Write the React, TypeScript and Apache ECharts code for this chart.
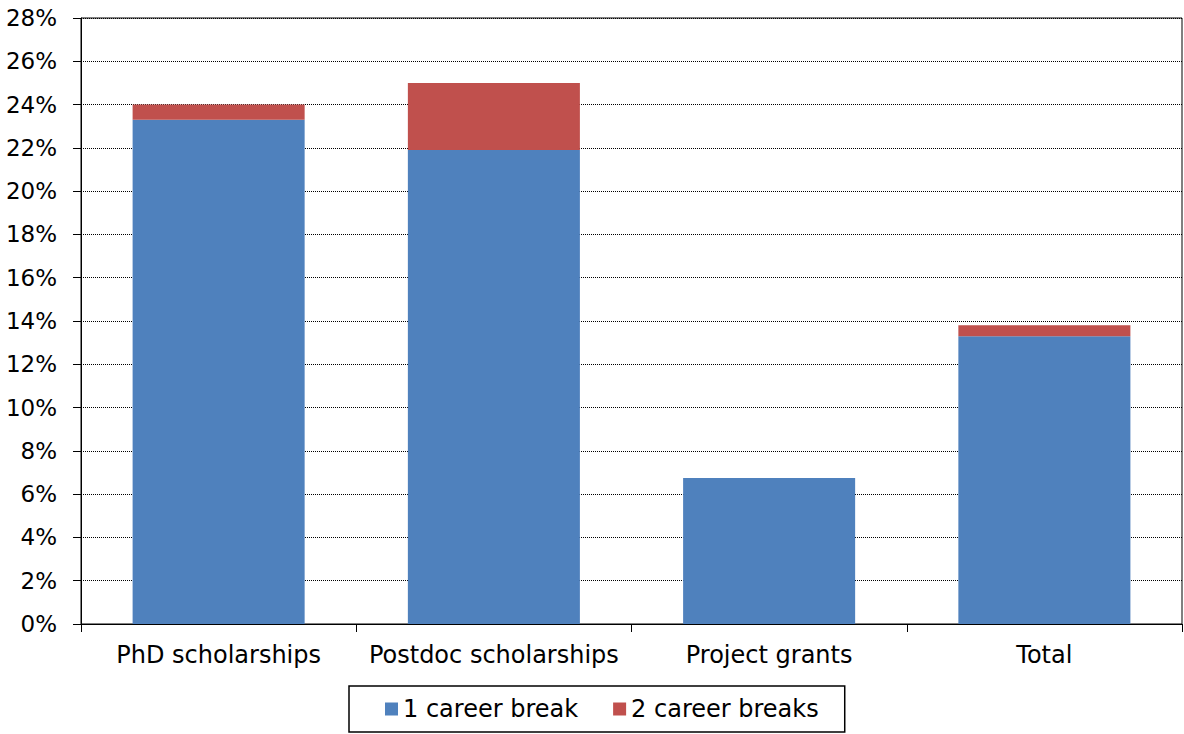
import React, { useEffect, useRef } from "react";
import * as echarts from "echarts";

const categories = ["PhD scholarships", "Postdoc scholarships", "Project grants", "Total"];
const oneBreak = [23.3, 21.9, 6.75, 13.3];
const twoBreaks = [0.7, 3.1, 0, 0.5];
const seriesNames = ["1 career break", "2 career breaks"];
const yTicks = { min: 0, max: 28, interval: 2 };

export default function App() {
  const ref = useRef<HTMLDivElement>(null);
  useEffect(() => {
    if (!ref.current) return;
    const chart = echarts.init(ref.current, null, { renderer: "svg" });
    const font = "DejaVu Sans, Arial, sans-serif";
    chart.setOption({
      animation: false,
      backgroundColor: "#fff",
      textStyle: { fontFamily: font },
      grid: {
        left: 81,
        right: 2,
        top: 18,
        bottom: 110,
        show: true,
        borderColor: "#000",
        borderWidth: 1,
        containLabel: false,
      },
      legend: {
        data: seriesNames,
        left: 349,
        top: 686,
        orient: "horizontal",
        icon: "rect",
        itemWidth: 13,
        itemHeight: 13,
        itemGap: 35,
        borderColor: "#000",
        borderWidth: 1.5,
        padding: [11, 26, 11, 36],
        textStyle: { fontFamily: font, fontSize: 24, color: "#000" },
      },
      xAxis: {
        type: "category",
        data: categories,
        axisLine: { show: true, lineStyle: { color: "#000", width: 1 } },
        axisTick: { show: true, length: 8, alignWithLabel: false, lineStyle: { color: "#000" } },
        axisLabel: { fontFamily: font, fontSize: 24, color: "#000", margin: 19, interval: 0 },
        splitLine: { show: false },
      },
      yAxis: {
        type: "value",
        min: yTicks.min,
        max: yTicks.max,
        interval: yTicks.interval,
        axisLine: { show: true, lineStyle: { color: "#000", width: 1 } },
        axisTick: { show: true, length: 8, lineStyle: { color: "#000" } },
        axisLabel: {
          fontFamily: font,
          fontSize: 23,
          color: "#000",
          margin: 24,
          formatter: (v: number) => `${v}%`,
        },
        splitLine: { show: true, lineStyle: { color: "#000", type: [1, 1], width: 1 } },
      },
      series: [
        {
          name: seriesNames[0],
          type: "bar",
          stack: "s",
          data: oneBreak,
          barWidth: "62.5%",
          itemStyle: { color: "#4F81BD" },
        },
        {
          name: seriesNames[1],
          type: "bar",
          stack: "s",
          data: twoBreaks,
          barWidth: "62.5%",
          itemStyle: { color: "#C0504D" },
        },
      ],
    });
    return () => chart.dispose();
  }, []);
  return (
    <div
      ref={ref}
      style={{ position: "fixed", left: 0, top: 0, width: 1184, height: 734 }}
    />
  );
}
